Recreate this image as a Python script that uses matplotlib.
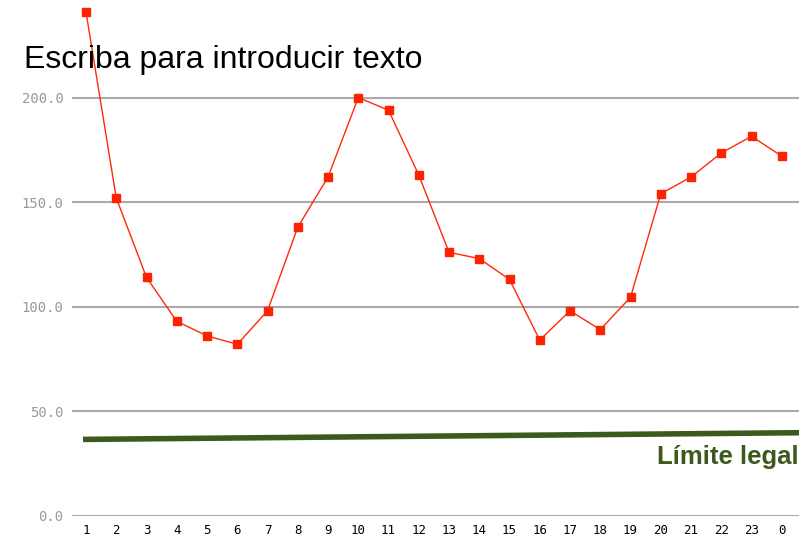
import matplotlib.pyplot as plt

hours = ['1', '2', '3', '4', '5', '6', '7', '8', '9', '10', '11', '12',
         '13', '14', '15', '16', '17', '18', '19', '20', '21', '22', '23', '0']
values = [241, 152, 114, 93, 86, 82, 98, 138, 162, 200, 194, 163,
          126, 123, 113, 84, 98, 89, 104.5, 154, 162, 173.5, 181.5, 172]
limit_pos = [-0.1, 23.6]
limit_vals = [36.5, 39.7]
yticks = [0, 50, 100, 150, 200]

fig = plt.figure(figsize=(7.99, 5.39), dpi=100)
ax = fig.add_axes([72/799, 1 - 515.7/539, 727/799, 515.7/539])

x = list(range(len(hours)))
for t in yticks:
    ax.axhline(t, color='#aaaaaa', lw=1.5, zorder=1)

ax.plot(limit_pos, limit_vals, color='#3b5a1c', lw=4, solid_capstyle='butt', zorder=2)
ax.plot(x, values, color='#ff2a0a', lw=1.0, marker='s', ms=5.5,
        markerfacecolor='#ff2200', markeredgecolor='#ff2200', zorder=3, clip_on=False)

ax.set_xlim(-0.463, 23.57)
ax.set_ylim(0, 246.7)
ax.set_xticks(x)
ax.set_xticklabels(hours, fontsize=9, family='DejaVu Sans Mono')
ax.set_yticks(yticks)
ax.set_yticklabels(['%.1f' % t for t in yticks], fontsize=10,
                   color='#999999', family='DejaVu Sans Mono')
ax.tick_params(axis='both', length=0)
ax.tick_params(axis='x', pad=6)
ax.tick_params(axis='y', pad=6)
for s in ax.spines.values():
    s.set_visible(False)

fig.text(24/799, 1 - 60/539, 'Escriba para introducir texto', fontsize=23,
         family='Liberation Sans', va='center', ha='left', color='black')
ax.text(23.55, 28, 'Límite legal', fontsize=18.5, fontweight='bold',
        family='Liberation Sans', color='#3b5a1c', ha='right', va='center')

fig.savefig('out.png', dpi=100)
